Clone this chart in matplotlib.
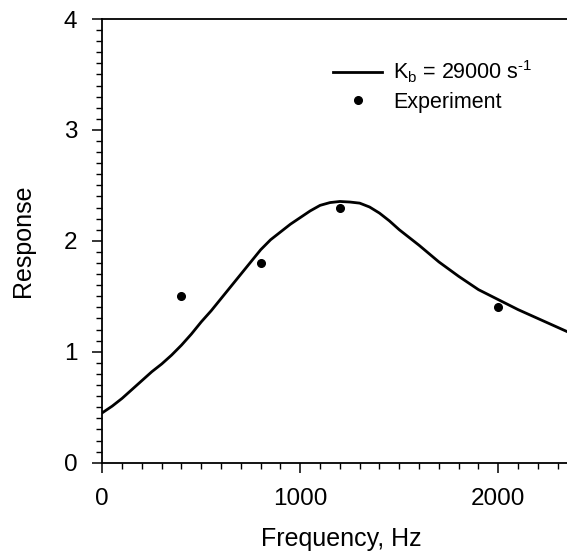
import matplotlib
matplotlib.use("Agg")
import matplotlib.pyplot as plt
from matplotlib.ticker import MultipleLocator

plt.rcParams['font.family'] = ['Liberation Sans', 'DejaVu Sans']
plt.rcParams['mathtext.fontset'] = 'custom'
plt.rcParams['mathtext.rm'] = 'Liberation Sans'

# model curve
freq_model = [0, 50, 100, 150, 200, 250, 300, 350, 400, 450, 500, 550, 600, 650,
              700, 750, 800, 850, 900, 950, 1000, 1050, 1100, 1150, 1200, 1250,
              1300, 1350, 1400, 1450, 1500, 1550, 1600, 1700, 1800, 1900, 2000,
              2100, 2200, 2300, 2350]
resp_model = [0.45, 0.51, 0.58, 0.66, 0.74, 0.82, 0.89, 0.97, 1.06, 1.16, 1.27,
              1.37, 1.48, 1.59, 1.70, 1.81, 1.92, 2.01, 2.08, 2.15, 2.21, 2.27,
              2.32, 2.345, 2.355, 2.35, 2.34, 2.305, 2.25, 2.18, 2.10, 2.03,
              1.96, 1.81, 1.68, 1.56, 1.47, 1.38, 1.30, 1.22, 1.18]

# experiment points
freq_exp = [400, 800, 1200, 2000]
resp_exp = [1.5, 1.8, 2.3, 1.4]

fig = plt.figure(figsize=(5.67, 5.54), dpi=100)
ax = fig.add_axes([102.3 / 567, (554 - 462.7) / 554, 1 - 102.3 / 567, (462.7 - 19) / 554])

ax.plot(freq_model, resp_model, color='black', lw=2.0,
        label=r'K$_\mathregular{b}$ = 29000 s$^{\text{-1}}$')
ax.plot(freq_exp, resp_exp, 'o', color='black', ms=5.5, label='Experiment')

ax.set_xlim(0, 2347)
ax.set_ylim(0, 4)
ax.xaxis.set_major_locator(MultipleLocator(1000))
ax.xaxis.set_minor_locator(MultipleLocator(100))
ax.yaxis.set_major_locator(MultipleLocator(1))
ax.yaxis.set_minor_locator(MultipleLocator(0.1))
ax.tick_params(which='major', direction='out', length=7, width=1.1, labelsize=17.5, pad=11)
ax.tick_params(which='minor', direction='out', length=4, width=1.0)
ax.spines['right'].set_visible(False)
for s in ['left', 'bottom', 'top']:
    ax.spines[s].set_linewidth(1.3)

ax.set_xlabel('Frequency, Hz', fontsize=18, va='center')
ax.set_ylabel('Response', fontsize=18, va='center')
ax.xaxis.set_label_coords(0.515, -0.172)
ax.yaxis.set_label_coords(-0.171, 0.5)

ax.legend(loc='upper left', bbox_to_anchor=(0.496, 0.91), frameon=False,
          fontsize=15.5, handlelength=2.3, handletextpad=0.5, borderpad=0,
          borderaxespad=0, labelspacing=0.3)

fig.savefig('out.png', dpi=100)
